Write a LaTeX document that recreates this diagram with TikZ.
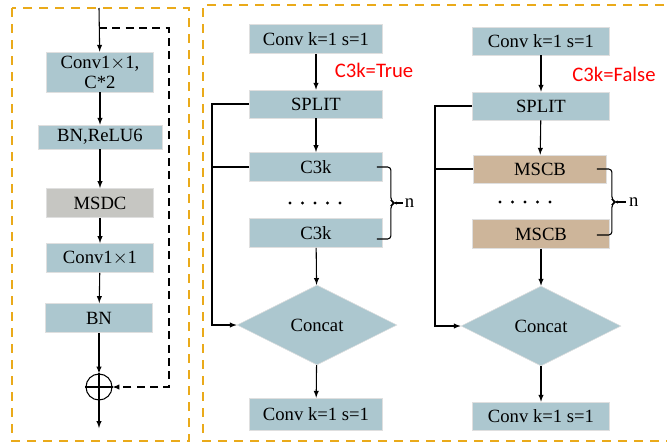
\documentclass[tikz,border=0pt]{standalone}
\usepackage{fontspec}
\setmainfont{Liberation Serif}
\newfontfamily\labelfont{Carlito}
\usepackage{tikz}
\usetikzlibrary{arrows,shapes.geometric}

\definecolor{boxblue}{RGB}{172,199,207}
\definecolor{boxgray}{RGB}{198,198,194}
\definecolor{boxtan}{RGB}{205,181,154}
\definecolor{frameorange}{RGB}{234,170,26}

\tikzset{
	block/.style={rectangle,draw=white!75!gray,fill=boxblue,inner sep=1pt,
		minimum width=100pt,minimum height=22pt,font=\fontsize{14}{15}\selectfont},
	merge/.style={diamond,draw=white!75!gray,fill=boxblue,aspect=2,inner sep=0pt,
		minimum width=120pt,minimum height=60pt,font=\fontsize{14}{15}\selectfont},
	flow/.style={thick,-latex},
	frame/.style={frameorange,line width=1.5pt,dash pattern=on 7pt off 5pt},
	flag/.style={text=red,font=\labelfont\fontsize{15.5}{16}\selectfont},
}

\begin{document}
\begin{tikzpicture}[x=0.75pt,y=-0.75pt]
	\useasboundingbox (0,0) rectangle (667,443);
	\clip (0,0) rectangle (667,443);

	% outer frames
	\draw[frame] (12,8) rectangle (189,441);
	\draw[frame] (680,5) -- (203,5) -- (203,441) -- (680,441);

	% MSCB branch
	\path (99,8) coordinate (msin);
	\path (99,28) coordinate (skip0);
	\path (169,28) coordinate (skip1);
	\path (99,428) coordinate (msout);
	\path (100,72) node(conv_expand) [block,minimum width=80pt,minimum height=30pt,align=center] {Conv1$\times$1,\\C*2};
	\path (100,137) node(bn_relu) [block,minimum width=93pt,minimum height=18pt] {BN,ReLU6};
	\path (100,203) node(msdc) [block,fill=boxgray,minimum width=80pt] {MSDC};
	\path (100,258) node(conv_proj) [block,minimum width=80pt] {Conv1$\times$1};
	\path (99,318) node(bn) [block,minimum width=80pt] {BN};
	\path (99,387) node(add) [circle,draw,thick,minimum size=19.5pt,inner sep=0pt] {};
	\draw[thick] (add.north) -- (add.south);
	\draw[thick] (add.west) -- (add.east);

	\draw[flow] (msin) -- (conv_expand);
	\draw[flow] (conv_expand) -- (bn_relu);
	\draw[flow] (bn_relu) -- (msdc);
	\draw[flow] (msdc) -- (conv_proj);
	\draw[flow] (conv_proj) -- (bn);
	\draw[flow] (bn) -- (add);
	\draw[flow] (add) -- (msout);
	\draw[thick,dashed,dash pattern=on 6pt off 4pt,-latex] (skip0) -- (skip1) |- (add.east);

	% C3k2 with C3k=True
	\path (316,39) node(t_conv_in) [block] {Conv k=1 s=1};
	\path (316,104) node(t_split) [block,minimum height=21pt] {SPLIT};
	\path (316,167) node(t_c3k_a) [block] {C3k};
	\path (316,233) node(t_c3k_b) [block] {C3k};
	\path (317,325) node(t_concat) [merge] {Concat};
	\path (316,414) node(t_conv_out) [block,minimum height=24pt] {Conv k=1 s=1};
	\path (374,70) node(t_flag) [flag] {C3k=True};
	\path (212,104) coordinate (t_bus);
	\foreach \i in {0,...,4}
		\fill (290+\i*12.5,203) circle (1.6);

	\draw[flow] (t_conv_in) -- (t_split);
	\draw[flow] (t_split) -- (t_c3k_a);
	\draw[flow] (t_c3k_b) -- (t_concat);
	\draw[flow] (t_concat) -- (t_conv_out);
	\draw[thick,-latex] (t_split.west) -- (t_bus) |- (t_concat.west);
	\draw[thick] (t_c3k_a.west) -- (t_bus |- t_c3k_a.west);
	\draw[thick,rounded corners=2.5] (t_c3k_a.east) ++(-6,0) -- ++(14,0) -- ++(0,34) -- ++(4,2)
		-- ++(-4,2) -- ++(0,34) -- ++(-14,0);
	\draw[thick] (t_c3k_a.east) ++(12,36) -- ++(8,0) node(t_n) [right,inner sep=1pt,font=\fontsize{14}{15}\selectfont] {n};

	% C3k2 with C3k=False
	\path (541,41) node(f_conv_in) [block,minimum width=103pt,minimum height=21pt] {Conv k=1 s=1};
	\path (541,106) node(f_split) [block,minimum width=103pt,minimum height=21pt] {SPLIT};
	\path (540,169) node(f_mscb_a) [block,fill=boxtan,minimum width=100pt,minimum height=21pt] {MSCB};
	\path (541,234) node(f_mscb_b) [block,fill=boxtan,minimum width=103pt,minimum height=22pt] {MSCB};
	\path (541,326) node(f_concat) [merge] {Concat};
	\path (541,416) node(f_conv_out) [block,minimum width=103pt,minimum height=21pt] {Conv k=1 s=1};
	\path (614,74) node(f_flag) [flag] {C3k=False};
	\path (435,106) coordinate (f_bus);
	\foreach \i in {0,...,4}
		\fill (500+\i*12.5,202) circle (1.6);

	\draw[flow] (f_conv_in) -- (f_split);
	\draw[flow] (f_split) -- (f_mscb_a);
	\draw[flow] (f_mscb_b) -- (f_concat);
	\draw[flow] (f_concat) -- (f_conv_out);
	\draw[thick,-latex] (f_split.west) -- (f_bus) |- (f_concat.west);
	\draw[thick] (f_mscb_a.west) -- (f_bus |- f_mscb_a.west);
	\draw[thick,rounded corners=2.5] (f_mscb_a.east) ++(-10,0) -- ++(15,0) -- ++(0,31) -- ++(4,2)
		-- ++(-4,2) -- ++(0,31) -- ++(-15,0);
	\draw[thick] (f_mscb_a.east) ++(9,33) -- ++(10,0) node(f_n) [right,inner sep=2pt,font=\fontsize{14}{15}\selectfont] {n};
\end{tikzpicture}
\end{document}
